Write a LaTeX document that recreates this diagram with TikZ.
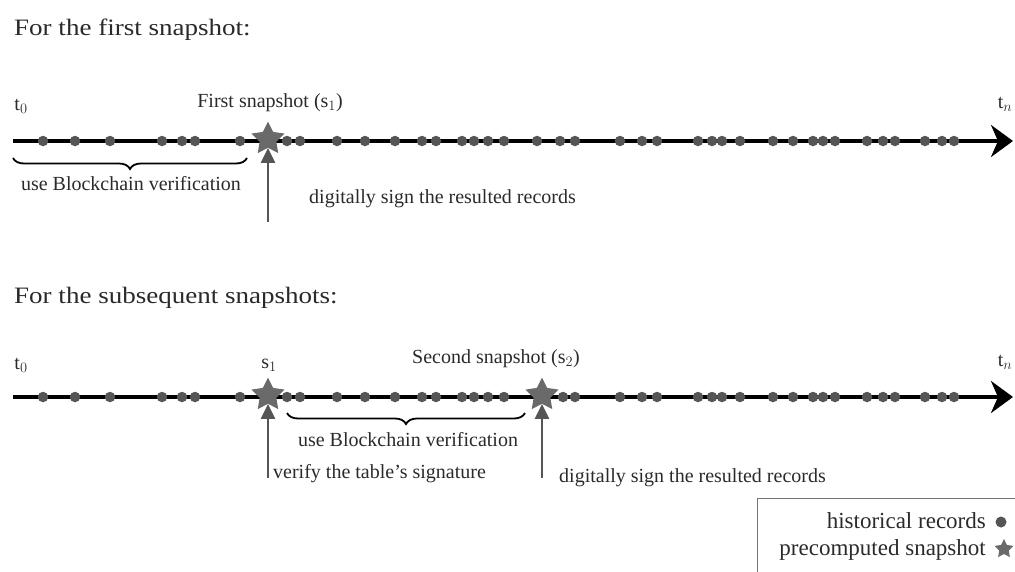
\documentclass[tikz,border=0pt]{standalone}
\usepackage{fontspec}
\setmainfont{Liberation Serif}
\newfontfamily\headfont[FakeStretch=1.15]{Liberation Serif}
\usetikzlibrary{arrows.meta,shapes.geometric,decorations.pathreplacing}
\definecolor{dotgray}{HTML}{555555}
\definecolor{stargray}{HTML}{6A6A6A}
\definecolor{txtgray}{HTML}{2A2A2A}
\tikzset{
  rec/.style={circle,fill=dotgray,inner sep=0pt,minimum size=10.5pt},
  snap/.style={star,star points=5,star point ratio=2.0,fill=stargray,inner sep=0pt,minimum size=35pt},
  timeline/.style={line width=3.4pt,-{Stealth[length=22pt,width=32pt,inset=7pt]}},
  uparrow/.style={draw=dotgray,line width=2.6pt,-{Triangle[length=15pt,width=14pt]}},
  lbl/.style={text=txtgray,inner sep=0pt,font=\fontsize{20}{22}\selectfont},
  leg/.style={text=txtgray,inner sep=0pt,font=\fontsize{23}{25}\selectfont,anchor=east},
  head/.style={text=txtgray,inner sep=0pt,font=\headfont\fontsize{23.5}{26}\selectfont,anchor=west},
  brc/.style={decorate,decoration={brace,mirror,amplitude=11pt},line width=1.8pt},
}
\begin{document}
\begin{tikzpicture}[x=1pt,y=-1pt]
\useasboundingbox (0,0) rectangle (1015,571);
% ---------- top ----------
\node[head] (h1) at (14,30) {For the first snapshot:};
\coordinate (a0) at (13,141);
\coordinate (a1) at (1013,141);
\draw[timeline] (a0) -- (a1);
\foreach \x in {43,75,110,162,182,195,240,287,300,337,365,395,422,436,462,474,488,504,537,560,575,620,642,657,698,712,722,740,773,793,813,823,835,867,883,895,925,942,954}
  \node[rec] at (\x,141) {};
\node[snap] (s1a) at (268,139) {};
\node[lbl] (t0a) at (21,106) {t$_0$};
\node[lbl] (tna) at (1005,104) {t$_n$};
\node[lbl] (fs) at (270,103) {First snapshot (s$_1$)};
\coordinate (b0) at (13,158);
\coordinate (b1) at (247,158);
\draw[brc] (b0) -- (b1);
\node[lbl] (ubv1) at (131,184) {use Blockchain verification};
\coordinate (ar1) at (268,222);
\draw[uparrow] (ar1) -- (s1a.south);
\node[lbl,anchor=west] (ds1) at (309,199) {digitally sign the resulted records};
% ---------- bottom ----------
\node[head] (h2) at (14,298) {For the subsequent snapshots:};
\coordinate (c0) at (13,397);
\coordinate (c1) at (1013,397);
\draw[timeline] (c0) -- (c1);
\foreach \x in {43,75,110,162,182,195,240,287,300,337,365,395,422,436,462,474,488,504,563,575,620,642,657,698,712,722,740,773,793,813,823,835,867,883,895,925,942,954}
  \node[rec] at (\x,397) {};
\node[snap] (s1b) at (268,395) {};
\node[snap] (s2b) at (542,395) {};
\node[lbl] (t0b) at (21,365) {t$_0$};
\node[lbl] (tnb) at (1005,362) {t$_n$};
\node[lbl] (s1l) at (269,365) {s$_1$};
\node[lbl] (ss) at (496,359) {Second snapshot (s$_2$)};
\coordinate (d0) at (287,413);
\coordinate (d1) at (525,413);
\draw[brc] (d0) -- (d1);
\node[lbl] (ubv2) at (408,440) {use Blockchain verification};
\coordinate (ar2) at (268,478);
\draw[uparrow] (ar2) -- (s1b.south);
\node[lbl,anchor=west] (vt) at (273,474) {verify the table's signature};
\coordinate (ar3) at (542,478);
\draw[uparrow] (ar3) -- (s2b.south);
\node[lbl,anchor=west] (ds2) at (559,478) {digitally sign the resulted records};
% ---------- legend ----------
\draw[draw=black!55,line width=1pt] (757,498) rectangle (1020,575);
\node[leg] (lg1) at (986,521) {historical records};
\node[rec,minimum size=11pt] (lgd) at (1001,522) {};
\node[leg] (lg2) at (986,550) {precomputed snapshot};
\node[snap,minimum size=20pt] (lgs) at (1004,549) {};
\end{tikzpicture}
\end{document}
